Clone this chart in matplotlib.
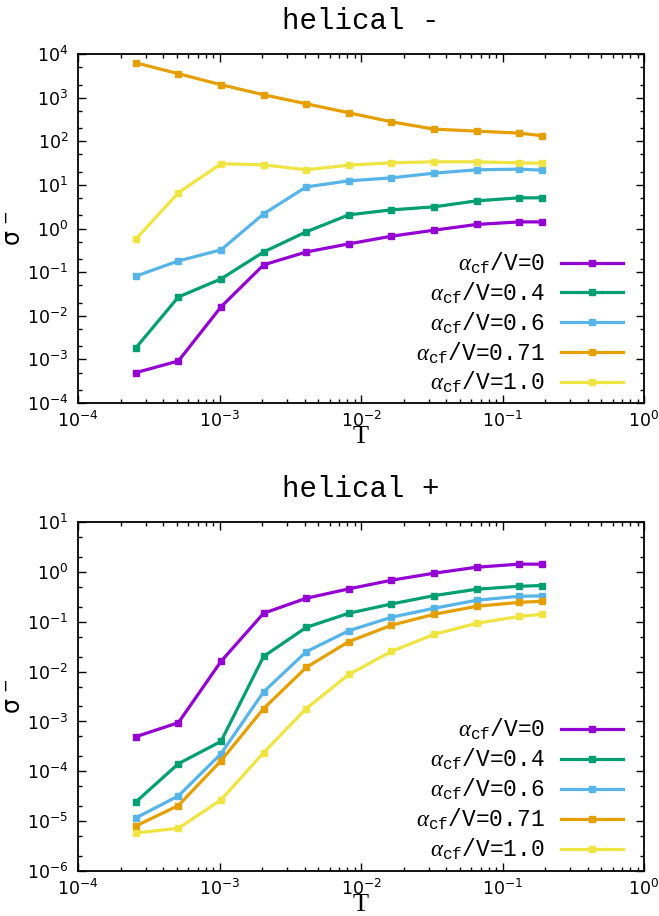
import math
import matplotlib
matplotlib.use("Agg")
import matplotlib.pyplot as plt
from matplotlib.ticker import LogLocator, NullFormatter, FuncFormatter

# ---------------- data ----------------
T = [0.000256, 0.000512, 0.001024, 0.002048, 0.004096, 0.008192,
     0.016384, 0.032768, 0.065536, 0.131072, 0.19]

labels = ["0", "0.4", "0.6", "0.71", "1.0"]
colors = ["#9400d3", "#009e73", "#56b4e9", "#e69f00", "#f0e442"]

# helical -
minus_a0 = [4.97e-4, 9.2e-4, 1.60e-2, 0.147, 0.29, 0.445, 0.667, 0.916, 1.24, 1.42, 1.42]
minus_a04 = [1.83e-3, 2.7e-2, 7.0e-2, 0.29, 0.84, 2.06, 2.68, 3.14, 4.31, 5.06, 5.06]
minus_a06 = [8.1e-2, 0.181, 0.324, 2.17, 9.0, 12.4, 14.5, 18.6, 22.2, 23.0, 21.8]
minus_a071 = [6300, 3540, 1980, 1165, 725, 450, 280, 190, 171, 154, 134]
minus_a10 = [0.57, 6.6, 30.5, 28.9, 22.2, 28.4, 32.1, 33.9, 33.9, 32.0, 31.5]

# helical +
plus_a0 = [4.94e-4, 9.46e-4, 1.60e-2, 0.148, 0.296, 0.456, 0.68, 0.94, 1.24, 1.43, 1.43]
plus_a04 = [2.43e-5, 1.42e-4, 3.98e-4, 2.01e-2, 7.7e-2, 0.148, 0.227, 0.334, 0.449, 0.515, 0.532]
plus_a06 = [1.16e-5, 3.21e-5, 2.25e-4, 3.92e-3, 2.5e-2, 6.6e-2, 0.123, 0.186, 0.27, 0.324, 0.33]
plus_a071 = [8.0e-6, 2.06e-5, 1.63e-4, 1.81e-3, 1.21e-2, 4.0e-2, 8.5e-2, 0.141, 0.204, 0.245, 0.257]
plus_a10 = [5.8e-6, 7.2e-6, 2.67e-5, 2.36e-4, 1.81e-3, 8.75e-3, 2.54e-2, 5.57e-2, 9.3e-2, 0.128, 0.141]

minus_series = [minus_a0, minus_a04, minus_a06, minus_a071, minus_a10]
plus_series = [plus_a0, plus_a04, plus_a06, plus_a071, plus_a10]

# ---------------- style ----------------
plt.rcParams["mathtext.fontset"] = "custom"
plt.rcParams["mathtext.rm"] = "DejaVu Sans"
plt.rcParams["mathtext.it"] = "Liberation Serif:italic"
plt.rcParams["mathtext.tt"] = "Liberation Mono"
plt.rcParams["font.family"] = ["DejaVu Sans"]


def pow_fmt(v, pos):
    e = int(round(math.log10(v)))
    return r"$\mathregular{10^{%d}}$" % e if e >= 0 else r"$\mathregular{10^{-%d}}$" % (-e)


def setup(ax, title, ylim):
    ax.set_xscale("log")
    ax.set_yscale("log")
    ax.set_xlim(1e-4, 1)
    ax.set_ylim(*ylim)
    ax.xaxis.set_major_locator(LogLocator(base=10, numticks=20))
    ax.xaxis.set_minor_locator(LogLocator(base=10, subs=range(2, 10), numticks=20))
    ax.yaxis.set_major_locator(LogLocator(base=10, numticks=20))
    ax.yaxis.set_minor_locator(LogLocator(base=10, subs=[2, 5], numticks=20))
    ax.xaxis.set_major_formatter(FuncFormatter(pow_fmt))
    ax.yaxis.set_major_formatter(FuncFormatter(pow_fmt))
    ax.xaxis.set_minor_formatter(NullFormatter())
    ax.yaxis.set_minor_formatter(NullFormatter())
    ax.tick_params(which="both", direction="in", top=True, right=True, width=1.0)
    ax.tick_params(which="major", length=6, labelsize=12.5)
    ax.tick_params(axis="y", which="major", pad=7)
    ax.tick_params(axis="x", which="major", pad=6)
    ax.tick_params(which="minor", length=3)
    for s in ax.spines.values():
        s.set_linewidth(1.3)
    ax.set_title(title, family="Liberation Mono", fontsize=21, pad=18)
    ax.set_xlabel("T", family="Liberation Serif", fontsize=19, labelpad=-4)
    ax.set_ylabel(r"$\mathrm{\sigma}^{\ -}$", fontsize=17)
    ax.yaxis.set_label_coords(-0.093, 0.5)


fig = plt.figure(figsize=(6.59, 9.16), dpi=100)
ax1 = fig.add_axes([0.1184, 0.560, 0.8589, 0.381])
ax2 = fig.add_axes([0.1184, 0.0491, 0.8589, 0.381])

for ax, series, title, ylim, yoff in [(ax1, minus_series, "helical -", (1e-4, 1e4), -0.011),
                                      (ax2, plus_series, "helical +", (1e-6, 1e1), -0.007)]:
    for y, lab, c in zip(series, labels, colors):
        ax.plot(T, y, color=c, lw=2.3, marker="s", ms=5, mec=c, mfc=c,
                label=r"$\alpha_{\mathtt{cf}}$/V=" + lab)
    setup(ax, title, ylim)
    ax.legend(loc="lower right", bbox_to_anchor=(0.983, yoff), frameon=False,
              markerfirst=False, prop={"family": "Liberation Mono", "size": 16.5},
              handlelength=2.7, handletextpad=0.7, labelspacing=0.2,
              borderaxespad=0.3, borderpad=0.2)

fig.savefig("out.png", dpi=100)
